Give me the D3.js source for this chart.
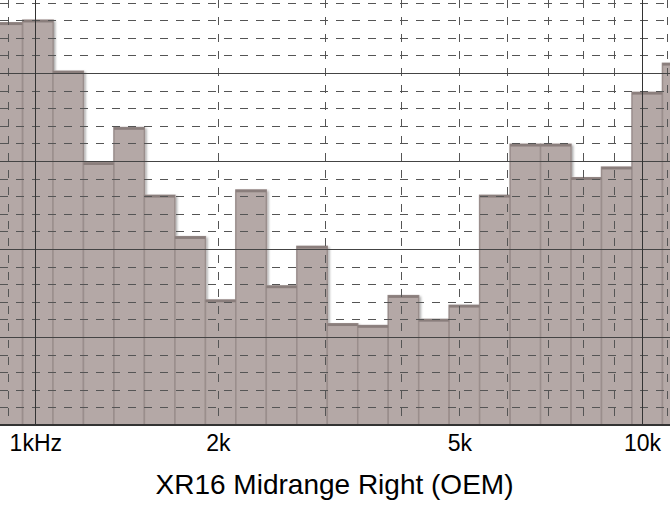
<!DOCTYPE html>
<html>
<head>
<meta charset="utf-8">
<script src="https://cdn.jsdelivr.net/npm/d3@7"></script>
<style>
  html, body { margin: 0; padding: 0; background: #fff; }
  svg { display: block; }
  text { font-family: "Liberation Sans", Arial, sans-serif; fill: #000; }
</style>
</head>
<body>
<svg id="chart" width="670" height="515"></svg>
<script>
// 1/6-octave band centre frequencies (Hz)
const freqs = [899, 1010, 1133, 1272, 1428, 1603, 1800, 2021, 2268, 2546, 2859, 3209,
               3602, 4044, 4540, 5096, 5721, 6423, 7210, 8094, 9086, 10200, 11451];
// band levels (dB)
const levels = [95.7, 96.0, 90.2, 79.8, 83.8, 76.1, 71.4, 64.2, 76.7, 65.8, 70.3, 61.5,
                61.3, 64.7, 62.0, 63.6, 76.1, 81.9, 81.9, 78.1, 79.3, 87.8, 91.1];
// grid
const majorFreqs = [1000, 10000];
const minorFreqs = [900, 2000, 3000, 4000, 5000, 6000, 7000, 8000, 9000, 11000];
const majorDb = [50, 60, 70, 80, 90];
const minorDb = [52, 54, 56, 58, 62, 64, 66, 68, 72, 74, 76, 78, 82, 84, 86, 88, 92, 94, 96, 98];
// tick labels
const tickFreqs = [1000, 2000, 5000, 10000];
const tickLabels = ["1kHz", "2k", "5k", "10k"];
const title = "XR16 Midrange Right (OEM)";

const W = 670, plotBottom = 425;
const svg = d3.select("#chart");

const x = d3.scaleLog().domain([1000, 10000]).range([35.3, 642]);
const y = d3.scaleLinear().domain([50, 100]).range([plotBottom, -15]);
const half = Math.pow(2, 1 / 12);

const defs = svg.append("defs");
defs.append("clipPath").attr("id", "plotclip")
  .append("rect").attr("x", 0).attr("y", 0).attr("width", W).attr("height", plotBottom);
const f = defs.append("filter").attr("id", "shadow")
  .attr("x", "-5%").attr("y", "-5%").attr("width", "110%").attr("height", "110%");
f.append("feDropShadow").attr("dx", 1.5).attr("dy", 1.5).attr("stdDeviation", 1.2)
  .attr("flood-color", "#000").attr("flood-opacity", 0.35);

const plot = svg.append("g").attr("clip-path", "url(#plotclip)");

const data = freqs.map((fr, i) => ({ f: fr, v: levels[i] }));

// bars
const bars = plot.append("g").attr("filter", "url(#shadow)");
bars.selectAll("rect.bar").data(data).join("rect")
  .attr("class", "bar")
  .attr("x", d => x(d.f / half))
  .attr("width", d => x(d.f * half) - x(d.f / half))
  .attr("y", d => y(d.v))
  .attr("height", d => plotBottom - y(d.v) + 2)
  .attr("fill", "#b4a8a6")
  .attr("stroke", "#9a8e8c")
  .attr("stroke-width", 1.5);
bars.selectAll("line.top").data(data).join("line")
  .attr("class", "top")
  .attr("x1", d => x(d.f / half))
  .attr("x2", d => x(d.f * half))
  .attr("y1", d => y(d.v) + 1)
  .attr("y2", d => y(d.v) + 1)
  .attr("stroke", "#8a7e7c")
  .attr("stroke-width", 2.5);

// grid
const grid = plot.append("g");
grid.selectAll("line.hmin").data(minorDb).join("line")
  .attr("x1", 0).attr("x2", W)
  .attr("y1", d => Math.round(y(d)) + 0.5).attr("y2", d => Math.round(y(d)) + 0.5)
  .attr("stroke", "#555").attr("stroke-width", 1).attr("stroke-dasharray", "8,8");
grid.selectAll("line.vmin").data(minorFreqs).join("line")
  .attr("y1", 0).attr("y2", plotBottom)
  .attr("x1", d => Math.round(x(d)) + 0.5).attr("x2", d => Math.round(x(d)) + 0.5)
  .attr("stroke", "#555").attr("stroke-width", 1).attr("stroke-dasharray", "8,9");
grid.selectAll("line.hmaj").data(majorDb).join("line")
  .attr("x1", 0).attr("x2", W)
  .attr("y1", d => Math.round(y(d)) + 0.5).attr("y2", d => Math.round(y(d)) + 0.5)
  .attr("stroke", "#444").attr("stroke-width", 1);
grid.selectAll("line.vmaj").data(majorFreqs).join("line")
  .attr("y1", 0).attr("y2", plotBottom)
  .attr("x1", d => Math.round(x(d)) + 0.5).attr("x2", d => Math.round(x(d)) + 0.5)
  .attr("stroke", "#333").attr("stroke-width", 1);

// baseline
svg.append("line").attr("x1", 0).attr("x2", W)
  .attr("y1", plotBottom).attr("y2", plotBottom)
  .attr("stroke", "#333").attr("stroke-width", 2);

// x axis labels
const axis = d3.axisBottom(x)
  .tickValues(tickFreqs)
  .tickFormat((d, i) => tickLabels[i])
  .tickSize(0).tickPadding(10);
const ag = svg.append("g").attr("transform", `translate(0,${plotBottom})`).call(axis);
ag.select(".domain").remove();
ag.selectAll("text").attr("font-size", 23)
  .style("font-family", '"Liberation Sans", Arial, sans-serif').attr("fill", "#000");

// title
svg.append("text").attr("x", 334.5).attr("y", 494)
  .attr("text-anchor", "middle").attr("font-size", 28).text(title);
</script>
</body>
</html>
